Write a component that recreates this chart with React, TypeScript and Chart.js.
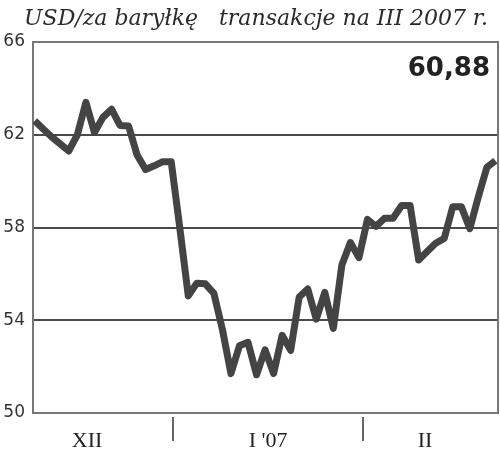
import React, { useEffect, useRef } from "react";
import { Chart, registerables } from "chart.js";

Chart.register(...registerables);

const titleText = "USD/za baryłkę   transakcje na III 2007 r.";

const values = [
  62.6, 62.25, 61.9, 61.6, 61.3, 62.0, 63.4, 62.1, 62.75, 63.1,
  62.4, 62.38, 61.13, 60.5, 60.66, 60.84, 60.84, 58.0, 55.05, 55.6,
  55.57, 55.16, 53.6, 51.7, 52.9, 53.05, 51.65, 52.72, 51.7, 53.35,
  52.7, 55.0, 55.35, 54.05, 55.2, 53.65, 56.38, 57.35, 56.7, 58.35,
  58.05, 58.4, 58.4, 58.95, 58.95, 56.6, 56.96, 57.32, 57.53, 58.9,
  58.9, 57.95, 59.33, 60.6, 60.88,
];

const yTicks = [50, 54, 58, 62, 66];

const monthLabels = ["XII", "I '07", "II"];
const monthCenters = [6.13, 27.35, 45.75];
const monthBreaks = [16.2, 38.5];

const lastValueLabel = values[values.length - 1].toFixed(2).replace(".", ",");

const decorPlugin = {
  id: "decor",
  afterDraw(chart: any) {
    const { ctx, chartArea, scales } = chart;
    const x = scales.x;
    ctx.save();
    // right border
    ctx.strokeStyle = "#777";
    ctx.lineWidth = 2;
    ctx.beginPath();
    ctx.moveTo(chartArea.right, chartArea.top - 1);
    ctx.lineTo(chartArea.right, chartArea.bottom + 1);
    ctx.stroke();

    // title
    ctx.fillStyle = "#2a2a2a";
    ctx.font = "italic 22px 'DejaVu Serif', serif";
    ctx.textAlign = "center";
    ctx.textBaseline = "alphabetic";
    ctx.fillText(titleText, 256, 25);

    // last value
    ctx.fillStyle = "#222";
    ctx.font = "bold 26px 'DejaVu Sans', sans-serif";
    ctx.textAlign = "right";
    ctx.fillText(lastValueLabel, 490, 76);

    // month labels
    ctx.fillStyle = "#222";
    ctx.font = "22px 'Liberation Serif', serif";
    ctx.textAlign = "center";
    monthLabels.forEach((lab, i) => {
      ctx.fillText(lab, x.getPixelForValue(monthCenters[i]), 447);
    });

    // month separators
    ctx.strokeStyle = "#666";
    ctx.lineWidth = 2;
    monthBreaks.forEach((b) => {
      const px = Math.round(x.getPixelForValue(b));
      ctx.beginPath();
      ctx.moveTo(px, chartArea.bottom + 4);
      ctx.lineTo(px, chartArea.bottom + 28);
      ctx.stroke();
    });
    ctx.restore();
  },
};

export default function App() {
  const ref = useRef<HTMLCanvasElement>(null);
  useEffect(() => {
    if (!ref.current) return;
    const chart = new Chart(ref.current, {
      type: "line",
      data: {
        datasets: [
          {
            data: values.map((v, i) => ({ x: i, y: v })),
            borderColor: "#444",
            borderWidth: 7,
            pointRadius: 0,
            tension: 0,
            borderJoinStyle: "round",
            borderCapStyle: "butt",
            fill: false,
          },
        ],
      },
      options: {
        animation: false,
        responsive: false,
        devicePixelRatio: 1,
        layout: { padding: { top: 42, bottom: 39, right: 2, left: 0 } },
        plugins: {
          legend: { display: false },
          tooltip: { enabled: false },
          title: { display: false },
        },
        scales: {
          x: {
            type: "linear",
            display: false,
            min: -0.2,
            max: 54.3,
          },
          y: {
            min: 50,
            max: 66,
            afterBuildTicks: (s: any) => {
              s.ticks = yTicks.map((v) => ({ value: v }));
            },
            afterFit: (s: any) => {
              s.width = 33;
            },
            border: { display: true, color: "#777", width: 2 },
            grid: {
              drawTicks: false,
              lineWidth: 2,
              color: (c: any) =>
                c.tick && (c.tick.value === 50 || c.tick.value === 66) ? "#777" : "#4a4a4a",
            },
            ticks: {
              padding: 8,
              color: "#333",
              font: { family: "'DejaVu Sans', sans-serif", size: 17 },
            },
          },
        },
      },
      plugins: [decorPlugin],
    });
    return () => chart.destroy();
  }, []);
  return (
    <div style={{ position: "fixed", left: 0, top: 0, width: 500, height: 452, background: "#fff" }}>
      <canvas ref={ref} width={500} height={452} />
    </div>
  );
}
